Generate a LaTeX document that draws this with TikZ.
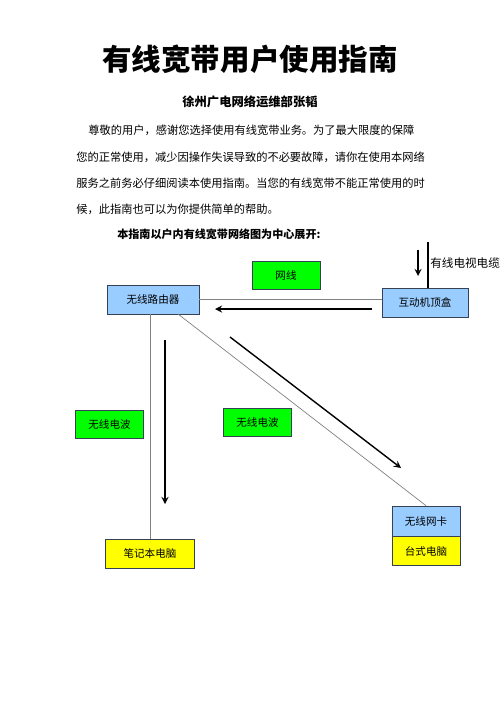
\documentclass[tikz,border=0pt]{standalone}
\usepackage{fontspec}
\setmainfont{Noto Sans CJK SC}
\usetikzlibrary{arrows}

\definecolor{boxBlue}{RGB}{153,204,255}
\definecolor{boxGreen}{RGB}{0,255,0}
\definecolor{boxYellow}{RGB}{255,255,0}
\definecolor{boxEdge}{RGB}{55,65,85}
\definecolor{wireGray}{RGB}{130,130,130}

\tikzstyle{deviceBox}=[draw=boxEdge,fill=boxBlue,inner sep=0pt,font=\fontsize{6}{7}\selectfont]
\tikzstyle{mediumBox}=[draw=boxEdge,fill=boxGreen,inner sep=0pt,minimum width=1.36cm,minimum height=0.57cm,font=\fontsize{6}{7}\selectfont]
\tikzstyle{pcBox}=[draw=boxEdge,fill=boxYellow,inner sep=0pt,font=\fontsize{6}{7}\selectfont]
\tikzstyle{wire}=[draw=wireGray,thin]
\tikzstyle{signalFlow}=[-stealth, thick]
\tikzstyle{bodyLine}=[anchor=west,inner sep=0pt,font=\fontsize{6.4}{7}\selectfont]

\begin{document}
\begin{tikzpicture}[x=0.02cm,y=-0.02cm]
		\useasboundingbox[fill=white] (0,0) rectangle (500,707);
		
		% header and text
		\node[inner sep=0pt,font=\bfseries\fontsize{16.8}{18}\selectfont] (title) at (250,59) {有线宽带用户使用指南};
		\node[inner sep=0pt,font=\bfseries\fontsize{7}{8}\selectfont] (author) at (250,102) {徐州广电网络运维部张韬};
		\node[bodyLine] (l1) at (88,130) {尊敬的用户，感谢您选择使用有线宽带业务。为了最大限度的保障};
		\node[bodyLine] (l2) at (76,157) {您的正常使用，减少因操作失误导致的不必要故障，请你在使用本网络};
		\node[bodyLine] (l3) at (76,183) {服务之前务必仔细阅读本使用指南。当您的有线宽带不能正常使用的时};
		\node[bodyLine] (l4) at (76,209) {候，此指南也可以为你提供简单的帮助。};
		\node[bodyLine,font=\bfseries\fontsize{6.3}{7}\selectfont] (intro) at (117,234) {本指南以户内有线宽带网络图为中心展开:};
		
		% devices
		\node[deviceBox,minimum width=1.84cm,minimum height=0.58cm] (router) at (153,299.5) {无线路由器};
		\node[deviceBox,minimum width=1.72cm,minimum height=0.58cm] (stb) at (425,302.5) {互动机顶盒};
		\node[deviceBox,minimum width=1.36cm,minimum height=0.6cm] (nic) at (426,521) {无线网卡};
		\node[pcBox,minimum width=1.36cm,minimum height=0.58cm,anchor=north] (desktop) at (nic.south) {台式电脑};
		\node[pcBox,minimum width=1.78cm,minimum height=0.58cm] (laptop) at (150,553.5) {笔记本电脑};
		
		% media labels
		\node[mediumBox] (cableLbl) at (286,275.5) {网线};
		\node[mediumBox] (waveL) at (109.5,424.5) {无线电波};
		\node[mediumBox] (waveM) at (257.5,422.5) {无线电波};
		\node[anchor=west,inner sep=0pt,font=\fontsize{6.6}{7}\selectfont] (tvLbl) at (430,263) {有线电视电缆};
		
		% wires
		\coordinate (cableTop) at (428,242);
		\draw[very thick] (cableTop) -- (cableTop |- stb.north);
		\draw[wire] (router.east) -- (router.east -| stb.west);
		\draw[wire] (router.south -| laptop.north) -- (laptop.north);
		\coordinate (routerFoot) at (178,314);
		\draw[wire] (routerFoot) -- (nic.north);
		
		% signal directions
		\coordinate (tvA) at (418,250);
		\coordinate (tvB) at (418,276);
		\coordinate (netA) at (372,309);
		\coordinate (netB) at (215,309);
		\coordinate (lapA) at (165,340);
		\coordinate (lapB) at (165,504);
		\coordinate (pcA) at (230,337);
		\coordinate (pcB) at (401,468);
		\draw[signalFlow] (tvA) -- (tvB);
		\draw[signalFlow] (netA) -- (netB);
		\draw[signalFlow] (lapA) -- (lapB);
		\draw[signalFlow] (pcA) -- (pcB);
\end{tikzpicture}
\end{document}
